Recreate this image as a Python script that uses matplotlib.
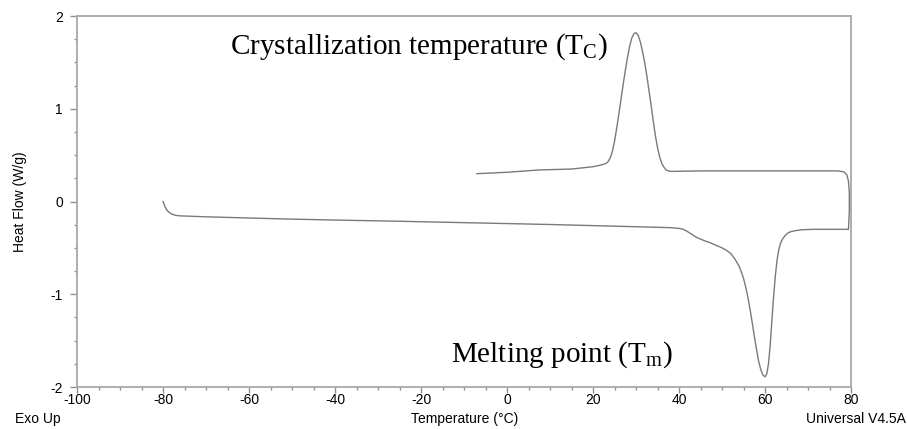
import matplotlib.pyplot as plt
from matplotlib.ticker import MultipleLocator

plt.rcParams['axes.unicode_minus'] = False

# heating run (lower trace), deg C / W/g
heat_t = [-80, -79.5, -79, -78, -77, -76, -70, -60, -50, -40, -25, -10, 0, 10, 20, 30,
          38, 40, 41, 42, 43, 44, 45, 46, 47, 48, 49, 50, 51, 52, 53, 54, 54.5, 55, 55.5,
          56, 56.5, 57, 57.5, 58, 58.5, 59, 59.5, 60, 60.4, 60.8, 61.2, 61.6, 62, 62.4,
          62.8, 63.2, 63.6, 64, 64.6, 65.3, 66, 67, 68.5, 71, 79.4]
heat_q = [0.0, -0.06, -0.1, -0.135, -0.15, -0.155, -0.165, -0.178, -0.19, -0.2, -0.213,
          -0.228, -0.238, -0.248, -0.26, -0.272, -0.282, -0.29, -0.30, -0.325, -0.355,
          -0.385, -0.405, -0.425, -0.44, -0.46, -0.48, -0.50, -0.525, -0.56, -0.62, -0.70,
          -0.76, -0.83, -0.92, -1.03, -1.16, -1.30, -1.45, -1.59, -1.72, -1.81, -1.87,
          -1.89, -1.86, -1.75, -1.55, -1.28, -1.02, -0.80, -0.63, -0.52, -0.45, -0.41,
          -0.37, -0.34, -0.325, -0.315, -0.305, -0.30, -0.30]

# isothermal jump + cooling run (upper trace)
cool_t = [79.6, 79.6, 79.4, 79, 78.3, 77, 60, 45, 39, 38, 37.5, 37, 36.5, 36, 35.5, 35,
          34.5, 34, 33.5, 33, 32.5, 32, 31.5, 31, 30.5, 30, 29.5, 29, 28.5, 28, 27.5, 27,
          26.5, 26, 25.5, 25, 24.5, 24, 23.5, 23, 22, 20, 15, 7.4, 0, -7]
cool_q = [-0.1, 0.1, 0.22, 0.29, 0.32, 0.33, 0.33, 0.33, 0.325, 0.325, 0.33, 0.34, 0.37,
          0.41, 0.48, 0.58, 0.71, 0.87, 1.04, 1.20, 1.36, 1.50, 1.62, 1.72, 1.79, 1.82,
          1.81, 1.76, 1.67, 1.55, 1.41, 1.26, 1.10, 0.94, 0.79, 0.65, 0.54, 0.47, 0.43,
          0.41, 0.395, 0.375, 0.35, 0.34, 0.315, 0.30]

fig = plt.figure(figsize=(9.07, 4.29), dpi=100)
ax = fig.add_axes([0.0849, 0.0979, 0.8534, 0.8648])

ax.plot(heat_t + cool_t, heat_q + cool_q, color='#7a7a7a', lw=1.0)

ax.set_xlim(-100, 80)
ax.set_ylim(-2, 2)
ax.xaxis.set_major_locator(MultipleLocator(20))
ax.xaxis.set_minor_locator(MultipleLocator(5))
ax.yaxis.set_major_locator(MultipleLocator(1))
ax.yaxis.set_minor_locator(MultipleLocator(0.25))

for s in ax.spines.values():
    s.set_color('#a8a8a8')
    s.set_linewidth(1.3)
ax.tick_params(which='both', direction='out', color='#909090', width=1,
               labelsize=10, labelcolor='black',
               labelfontfamily='Liberation Sans')
ax.tick_params(axis='y', which='major', length=5, pad=5)
ax.tick_params(axis='x', which='major', length=4, pad=0.5)
ax.tick_params(which='minor', length=2.5)

ax.set_ylabel('Heat Flow (W/g)', fontsize=10, family='Liberation Sans', labelpad=17)

fig.text(0.016, 0.013, 'Exo Up', fontsize=10, family='Liberation Sans')
fig.text(0.512, 0.013, 'Temperature (°C)', fontsize=10, family='Liberation Sans', ha='center')
fig.text(0.999, 0.013, 'Universal V4.5A', fontsize=10, family='Liberation Sans', ha='right')

ax.text(-64.5, 1.59, 'Crystallization temperature (T$_\\mathregular{C}$)', fontsize=21,
        family='Liberation Serif')
ax.text(-13, -1.73, 'Melting point (T$_\\mathregular{m}$)', fontsize=21,
        family='Liberation Serif')

fig.savefig('out.png', dpi=100)
